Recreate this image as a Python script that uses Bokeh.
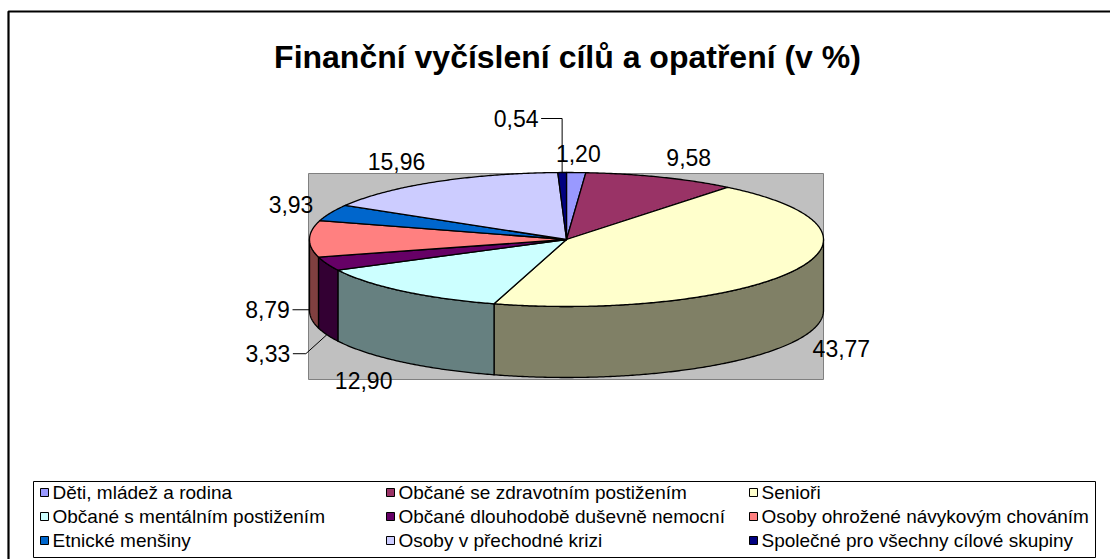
import numpy as np
from bokeh.plotting import figure
from bokeh.models import Range1d
from bokeh.core.properties import value
from bokeh.embed import file_html
from bokeh.resources import INLINE

# ---------------- data ----------------
title_text = "Finanční vyčíslení cílů a opatření (v %)"
categories = [
    "Děti, mládež a rodina",
    "Občané se zdravotním postižením",
    "Senioři",
    "Občané s mentálním postižením",
    "Občané dlouhodobě duševně nemocní",
    "Osoby ohrožené návykovým chováním",
    "Etnické menšiny",
    "Osoby v přechodné krizi",
    "Společné pro všechny cílové skupiny",
]
values = [1.20, 9.58, 43.77, 12.90, 3.33, 8.79, 3.93, 15.96, 0.54]
value_labels = ["1,20", "9,58", "43,77", "12,90", "3,33", "8,79", "3,93", "15,96", "0,54"]
top_colors = ["#9999FF", "#993366", "#FFFFCC", "#CCFFFF", "#660066",
              "#FF8080", "#0066CC", "#CCCCFF", "#000080"]
side_colors = ["#4D4D80", "#4D1A33", "#808066", "#668080", "#330033",
               "#804040", "#003366", "#666680", "#000040"]

# ---------------- layout (pixels) ----------------
W, H = 1110, 559
CX, CY = 566, 239          # centre of the top face of the pie
RX, RY = 257, 67           # radii of the top ellipse
DEPTH = 71                 # thickness of the pie
FONT = "Liberation Sans"

# label placement: radial factor + nudges; some labels use leader lines
LABEL_K = 1.22
label_nudge = {0: (0, -4), 1: (7, -6), 2: (-3, 0), 3: (-3, 7), 6: (12, -2), 7: (-10, -8)}
leader_offset = {4: (-59, 19), 5: (-42, 0), 8: (-46, -54)}   # label offset from leader end
leader_on_side = {4: True, 5: True, 8: False}                  # leader ends at bottom of side
leader_elbow = {4: 38}     # horizontal elbow length (others: elbow under end point)

p = figure(width=W, height=H, output_backend="svg", toolbar_location=None,
           x_range=Range1d(0, W), y_range=Range1d(H, 0),
           min_border=0, min_border_left=0, min_border_right=0,
           min_border_top=0, min_border_bottom=0)
p.axis.visible = False
p.grid.visible = False
p.outline_line_color = None
p.background_fill_color = "white"
p.border_fill_color = "white"

# outer chart border (extends beyond the window on the right / bottom)
p.line(x=[8, 8, W + 5], y=[H + 5, 11, 11], line_color="black", line_width=2.2)

# title
p.text(x=[567], y=[56], text=[title_text], text_font=value(FONT),
       text_font_size="32px", text_font_style="bold", text_align="center",
       text_baseline="middle", text_color="black")

# plot area (grey)
p.quad(left=[308], right=[823], top=[173], bottom=[379],
       fill_color="#C0C0C0", line_color="#808080", line_width=1)

# ---------------- 3D pie ----------------
vals = np.array(values, dtype=float)
cum = np.concatenate([[0.0], np.cumsum(vals)]) / vals.sum() * 360.0   # clockwise from top


def ex(t):
    return CX + RX * np.sin(np.radians(t))


def ey(t):
    return CY - RY * np.cos(np.radians(t))


side_xs, side_ys, side_fc = [], [], []
top_xs, top_ys, top_fc = [], [], []
for i in range(len(vals)):
    a0, a1 = cum[i], cum[i + 1]
    # visible side part (front half: 90..270 deg)
    s0, s1 = max(a0, 90.0), min(a1, 270.0)
    if s1 > s0:
        t = np.linspace(s0, s1, max(4, int((s1 - s0) * 2)))
        xs = np.concatenate([ex(t), ex(t[::-1])])
        ys = np.concatenate([ey(t), ey(t[::-1]) + DEPTH])
        side_xs.append(list(xs)); side_ys.append(list(ys)); side_fc.append(side_colors[i])
    t = np.linspace(a0, a1, max(4, int((a1 - a0) * 2)))
    top_xs.append([CX] + list(ex(t)))
    top_ys.append([CY] + list(ey(t)))
    top_fc.append(top_colors[i])

p.patches(xs=side_xs, ys=side_ys, fill_color=side_fc, line_color="black",
          line_width=1.3, line_join="round")
p.patches(xs=top_xs, ys=top_ys, fill_color=top_fc, line_color="black",
          line_width=1.3, line_join="round")

# ---------------- data labels ----------------
lab_x, lab_y = [], []
for i in range(len(vals)):
    m = (cum[i] + cum[i + 1]) / 2.0
    front = np.cos(np.radians(m)) < 0
    if i in leader_offset:
        ex_ = ex(m)
        ey_ = ey(m) + (DEPTH if leader_on_side[i] else 0)
        dx, dy = leader_offset[i]
        lx, ly = ex_ + dx, ey_ + dy
        sx = lx + 25
        if i in leader_elbow:
            ux = lx + leader_elbow[i]
        else:
            ux = ex_
        p.line(x=[sx, ux, ex_], y=[ly, ly, ey_], line_color="black", line_width=1)
    else:
        lx = CX + RX * LABEL_K * np.sin(np.radians(m))
        ly = CY - RY * LABEL_K * np.cos(np.radians(m)) + (DEPTH if front else 0)
        dx, dy = label_nudge.get(i, (0, 0))
        lx, ly = lx + dx, ly + dy
    lab_x.append(lx); lab_y.append(ly)

p.text(x=lab_x, y=lab_y, text=value_labels, text_font=value(FONT),
       text_font_size="23px", text_align="center", text_baseline="middle",
       text_color="black")

# ---------------- legend ----------------
p.quad(left=[33], right=[1095], top=[481], bottom=[557],
       fill_color="white", line_color="black", line_width=1)
col_x = [40, 386, 749]
row_y = [492, 516, 540]
mk_l, mk_r, mk_t, mk_b, tx, ty = [], [], [], [], [], []
for i, c in enumerate(categories):
    cx_ = col_x[i % 3]
    cy_ = row_y[i // 3]
    mk_l.append(cx_); mk_r.append(cx_ + 8); mk_t.append(cy_ - 4); mk_b.append(cy_ + 4)
    tx.append(cx_ + 12); ty.append(cy_)
p.quad(left=mk_l, right=mk_r, top=mk_t, bottom=mk_b, fill_color=top_colors,
       line_color="black", line_width=1)
p.text(x=tx, y=ty, text=categories, text_font=value(FONT), text_font_size="19px",
       text_align="left", text_baseline="middle", text_color="black")

open("out.html", "w").write(file_html(p, INLINE))
